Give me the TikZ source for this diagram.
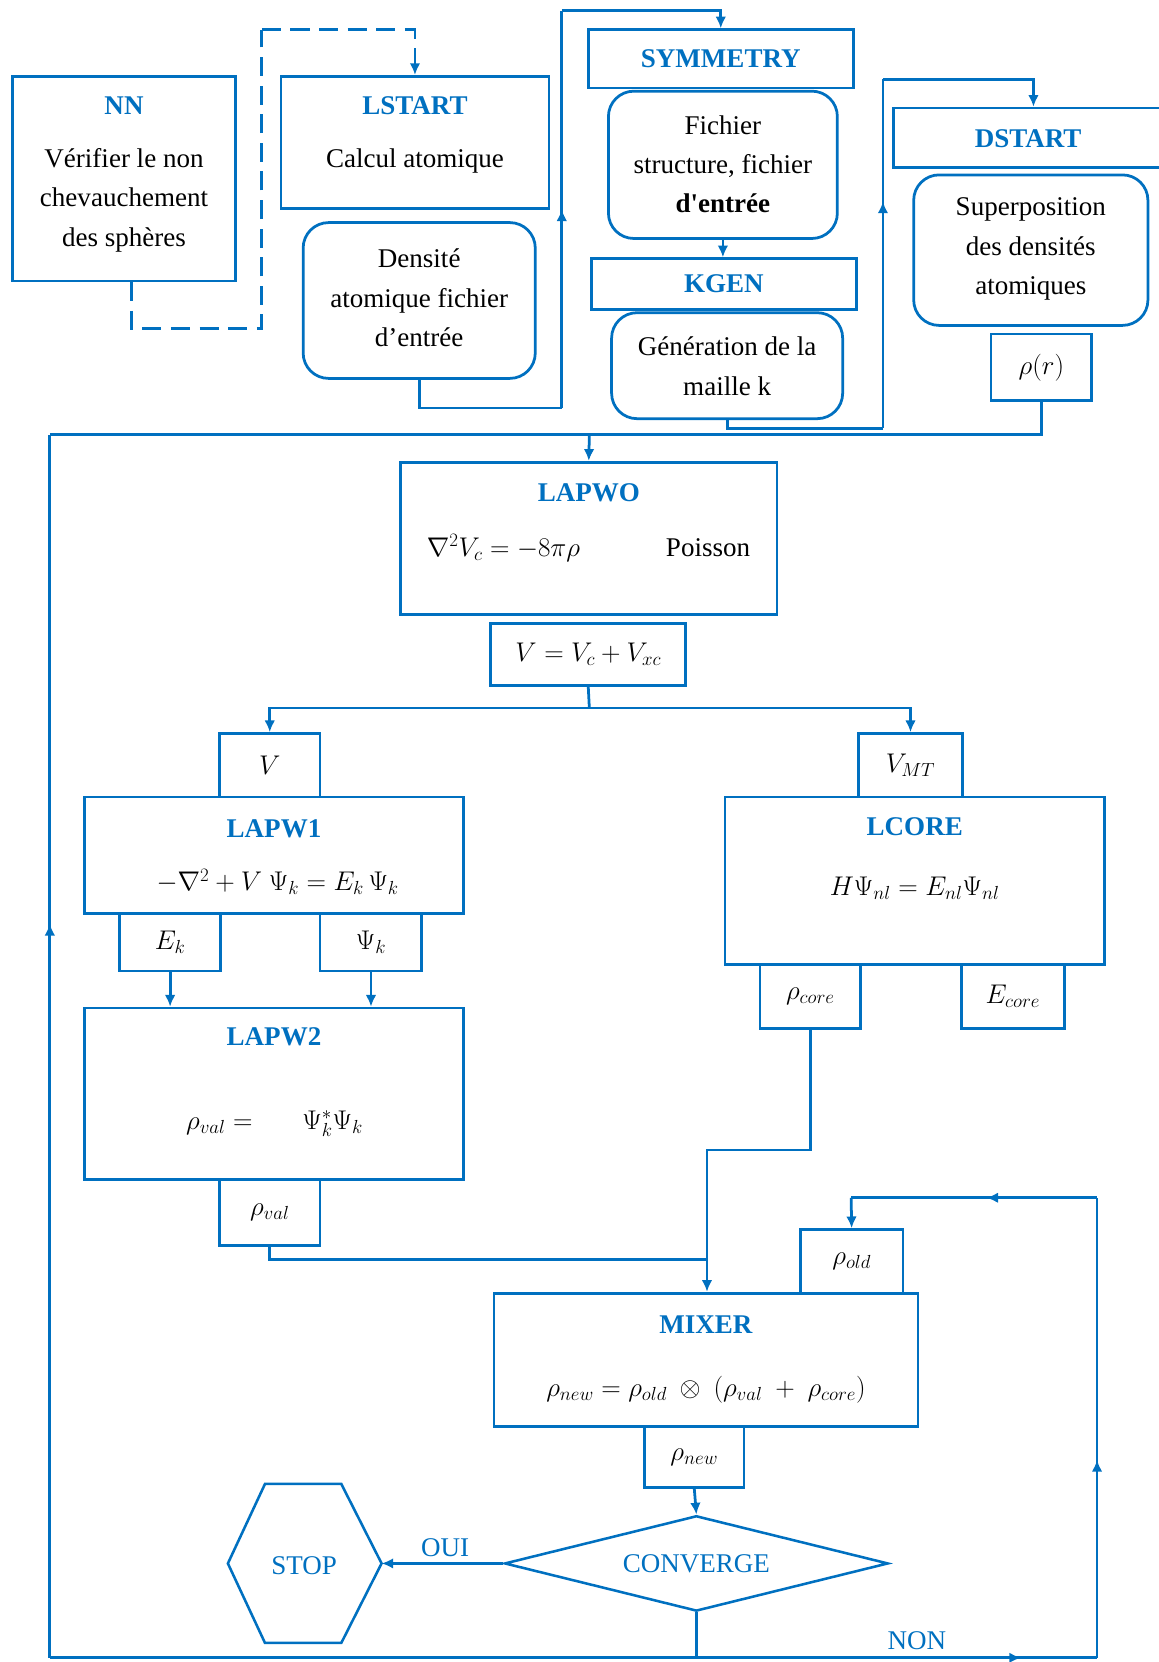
\RequirePackage{fix-cm}
\documentclass[tikz,border=0pt]{standalone}
\usepackage{fontspec}
\setmainfont{Liberation Serif}
\usetikzlibrary{arrows.meta,shapes.geometric,decorations.markings,calc}
\definecolor{wb}{RGB}{0,112,192}
\tikzset{
 box/.style={draw=wb, line width=2.6pt, rectangle, inner sep=0pt, fill=white},
 rbox/.style={box, rounded corners=24pt},
 ttl/.style={text=wb, font=\fontsize{25.5}{37}\selectfont\bfseries, inner sep=0pt},
 txt/.style={font=\fontsize{25.5}{37}\selectfont, align=center, inner sep=0pt},
 btxt/.style={txt, text=wb},
 conn/.style={wb, line width=2.6pt},
 dconn/.style={conn, dash pattern=on 18pt off 9pt},
 arr/.style={conn, -{Latex[length=11pt,width=10pt]}},
 darr/.style={dconn, -{Latex[length=11pt,width=10pt]}},
 midarr/.style={postaction={decorate}, decoration={markings, mark=at position #1 with {\arrow{Latex[length=11pt,width=10pt]}}}},
}
\begin{document}
\begin{tikzpicture}[x=1pt,y=-1pt]
\useasboundingbox (0,0) rectangle (1093,1568);

% ---------- top row ----------
\node[box, minimum width=210pt, minimum height=193pt] (nn) at (117,168.5) {};
\node[ttl] (nnT) at (117,100) {NN};
\node[txt] (nnB) at (117,189) {Vérifier le non\\chevauchement\\des sphères};

\node[box, minimum width=253pt, minimum height=125pt] (lstart) at (391.5,134.5) {};
\node[ttl] (lstartT) at (391.5,100) {LSTART};
\node[txt] (lstartB) at (391.5,152) {Calcul atomique};

\node[rbox, minimum width=219pt, minimum height=147pt] (dens) at (395.5,283.5) {};
\node[txt] (densB) at (395.5,281) {Densité\\atomique fichier\\d’entrée};

\node[box, ttl, minimum width=250pt, minimum height=55pt] (sym) at (680,55.5) {SYMMETRY};
\node[rbox, minimum width=216pt, minimum height=139pt] (fich) at (682,155.5) {};
\node[txt] (fichB) at (682,155) {Fichier\\structure, fichier\\\textbf{d\textquotesingle entrée}};

\node[box, ttl, minimum width=250pt, minimum height=48pt] (kgen) at (683,268) {KGEN};
\node[rbox, minimum width=218pt, minimum height=100pt] (gen) at (686,345) {};
\node[txt] (genB) at (686,345.5) {Génération de la\\maille k};

\node[box, minimum width=264pt, minimum height=56pt] (dstart) at (975,130) {};
\node[ttl] (dstartT) at (970,131) {DSTART};
\node[rbox, minimum width=221pt, minimum height=142pt] (sup) at (972.5,236) {};
\node[txt] (supB) at (972.5,235) {Superposition\\des densités\\atomiques};
\node[box, txt, minimum width=95pt, minimum height=63pt] (rho) at (982.5,346.5) {$\rho(r)$};

% ---------- LAPWO ----------
\node[box, minimum width=355pt, minimum height=144pt] (lapwo) at (555.5,508) {};
\node[ttl] (lapwoT) at (555.5,465) {LAPWO};
\node[txt] (lapwoE) at (475,517) {$\nabla^2 V_c = -8\pi\rho$};
\node[txt] (lapwoP) at (668,517) {Poisson};
\node[box, txt, minimum width=184pt, minimum height=59pt] (vsum) at (555,617.5) {$V = V_c + V_{xc}$};

% ---------- LAPW1 / LAPW2 ----------
\node[box, txt, minimum width=95pt, minimum height=60pt] (vbox) at (254.5,722) {$V$};
\node[box, minimum width=357pt, minimum height=110pt] (lapw1) at (258.5,807) {};
\node[ttl] (lapw1T) at (258.5,782) {LAPW1};
\node[txt] (lapw1E) at (262,832) {$-\nabla^2 + V\ \Psi_k = E_k\,\Psi_k$};
\node[box, txt, minimum width=95pt, minimum height=54pt] (ek) at (160.5,889) {$E_k$};
\node[box, txt, minimum width=96pt, minimum height=54pt] (psik) at (350,889) {$\Psi_k$};

\node[box, minimum width=357pt, minimum height=162pt] (lapw2) at (258.5,1032) {};
\node[ttl] (lapw2T) at (258.5,978) {LAPW2};
\node[txt] (lapw2E) at (259,1060) {$\rho_{val} =\hspace{40pt}\Psi_k^{*}\Psi_k$};
\node[box, txt, minimum width=95pt, minimum height=62pt] (rhoval) at (254.5,1144) {$\rho_{val}$};

% ---------- LCORE ----------
\node[box, txt, minimum width=98pt, minimum height=60pt] (vmt) at (859,722) {$V_{MT}$};
\node[box, minimum width=358pt, minimum height=158pt] (lcore) at (863,831) {};
\node[ttl] (lcoreT) at (863,780) {LCORE};
\node[txt] (lcoreE) at (863,838) {$H\Psi_{nl} = E_{nl}\Psi_{nl}$};
\node[box, txt, minimum width=95pt, minimum height=60pt] (rhocore) at (764.5,940) {$\rho_{core}$};
\node[box, txt, minimum width=97pt, minimum height=60pt] (ecore) at (955.5,940) {$E_{core}$};

% ---------- MIXER ----------
\node[box, txt, minimum width=97pt, minimum height=60pt] (rhoold) at (803.5,1190) {$\rho_{old}$};
\node[box, minimum width=400pt, minimum height=126pt] (mixer) at (666,1283) {};
\node[ttl] (mixerT) at (666,1250) {MIXER};
\node[txt] (mixerE) at (666,1311) {$\rho_{new} = \rho_{old}\ \otimes\ (\rho_{val}\ +\ \rho_{core})$};
\node[box, txt, minimum width=94pt, minimum height=57pt] (rhonew) at (655,1374.5) {$\rho_{new}$};

% ---------- CONVERGE / STOP ----------
\node[diamond, aspect=4, draw=wb, line width=2.4pt, inner sep=0pt, minimum width=362pt, minimum height=90pt, btxt] (conv) at (657,1475) {CONVERGE};
\draw[conn, line width=2.4pt] (215,1475) -- (250,1400) -- (322,1400) -- (360,1475) -- (322,1550) -- (250,1550) -- cycle;
\coordinate (stopE) at (360,1475);
\node[btxt] (stop) at (287,1477) {STOP};
\node[btxt] (oui) at (420,1460) {OUI};
\node[btxt] (non) at (865,1548) {NON};

% ---------- connectors ----------
% NN -> LSTART (dashed)
\coordinate (d1) at (124,310);
\coordinate (d2) at (247,310);
\coordinate (d3) at (247,28);
\draw[dconn] ($(nn.south)+(7,0)$) -- (d1) -- (d2) -- (d3);
\draw[darr] (d3) -| (lstart.north);

% Densite -> SYMMETRY
\coordinate (c1) at (530,385);
\coordinate (c2) at (530,10);
\draw[conn] (dens.south) |- (c1);
\draw[conn, midarr=0.5] (c1) -- (c2);
\draw[arr] (c2) -| (sym.north);

% Fichier -> KGEN
\draw[arr] (fich.south) -- (kgen.north -| fich.south);

% Generation -> DSTART
\coordinate (c3) at (833,404);
\coordinate (c4) at (833,75);
\draw[conn] (gen.south) |- (c3);
\draw[conn, midarr=0.65] (c3) -- (c4);
\draw[arr] (c4) -| (dstart.north);

% rho(r) -> LAPWO and main loop
\coordinate (j1) at (556,410);
\coordinate (j3) at (47,410);
\coordinate (j2) at (47,1564);
\coordinate (j7) at (657,1564);
\coordinate (j4) at (1035,1564);
\coordinate (j5) at (1035,1130);
\coordinate (j6) at (803,1130);
\draw[conn] (rho.south) |- (j1);
\draw[arr] (j1) -- (lapwo.north);
\draw[conn] (conv.south) -- (j7);
\draw[conn] (j7) -- (j2);
\draw[conn, midarr=0.6] (j2) -- (j3);
\draw[conn] (j3) -- (j1);
\draw[conn, midarr=0.81] (j7) -- (j4);
\draw[conn, midarr=0.43] (j4) -- (j5);
\draw[conn, midarr=0.45] (j5) -- (j6);
\draw[arr] (j6) -- (rhoold.north);

% V split
\coordinate (s1) at (556,668);
\draw[conn] (vsum.south) -- (s1);
\draw[arr] (s1) -| (vbox.north);
\draw[arr] (s1) -| (vmt.north);

% LAPW1 -> LAPW2
\draw[arr] (ek.south) -- (lapw2.north -| ek.south);
\draw[arr] (psik.south) -- (lapw2.north -| psik.south);

% rho_val, rho_core -> MIXER
\coordinate (m1) at (667,1188);
\coordinate (m2) at (667,1085);
\draw[conn] (rhoval.south) |- (m1);
\draw[conn] (rhocore.south) |- (m2) -- (m1);
\draw[arr] (m1) -- (mixer.north -| m1);

% rho_new -> CONVERGE -> STOP
\draw[arr] (rhonew.south) -- (conv.north);
\draw[arr] (conv.west) -- (stopE);
\end{tikzpicture}
\end{document}
